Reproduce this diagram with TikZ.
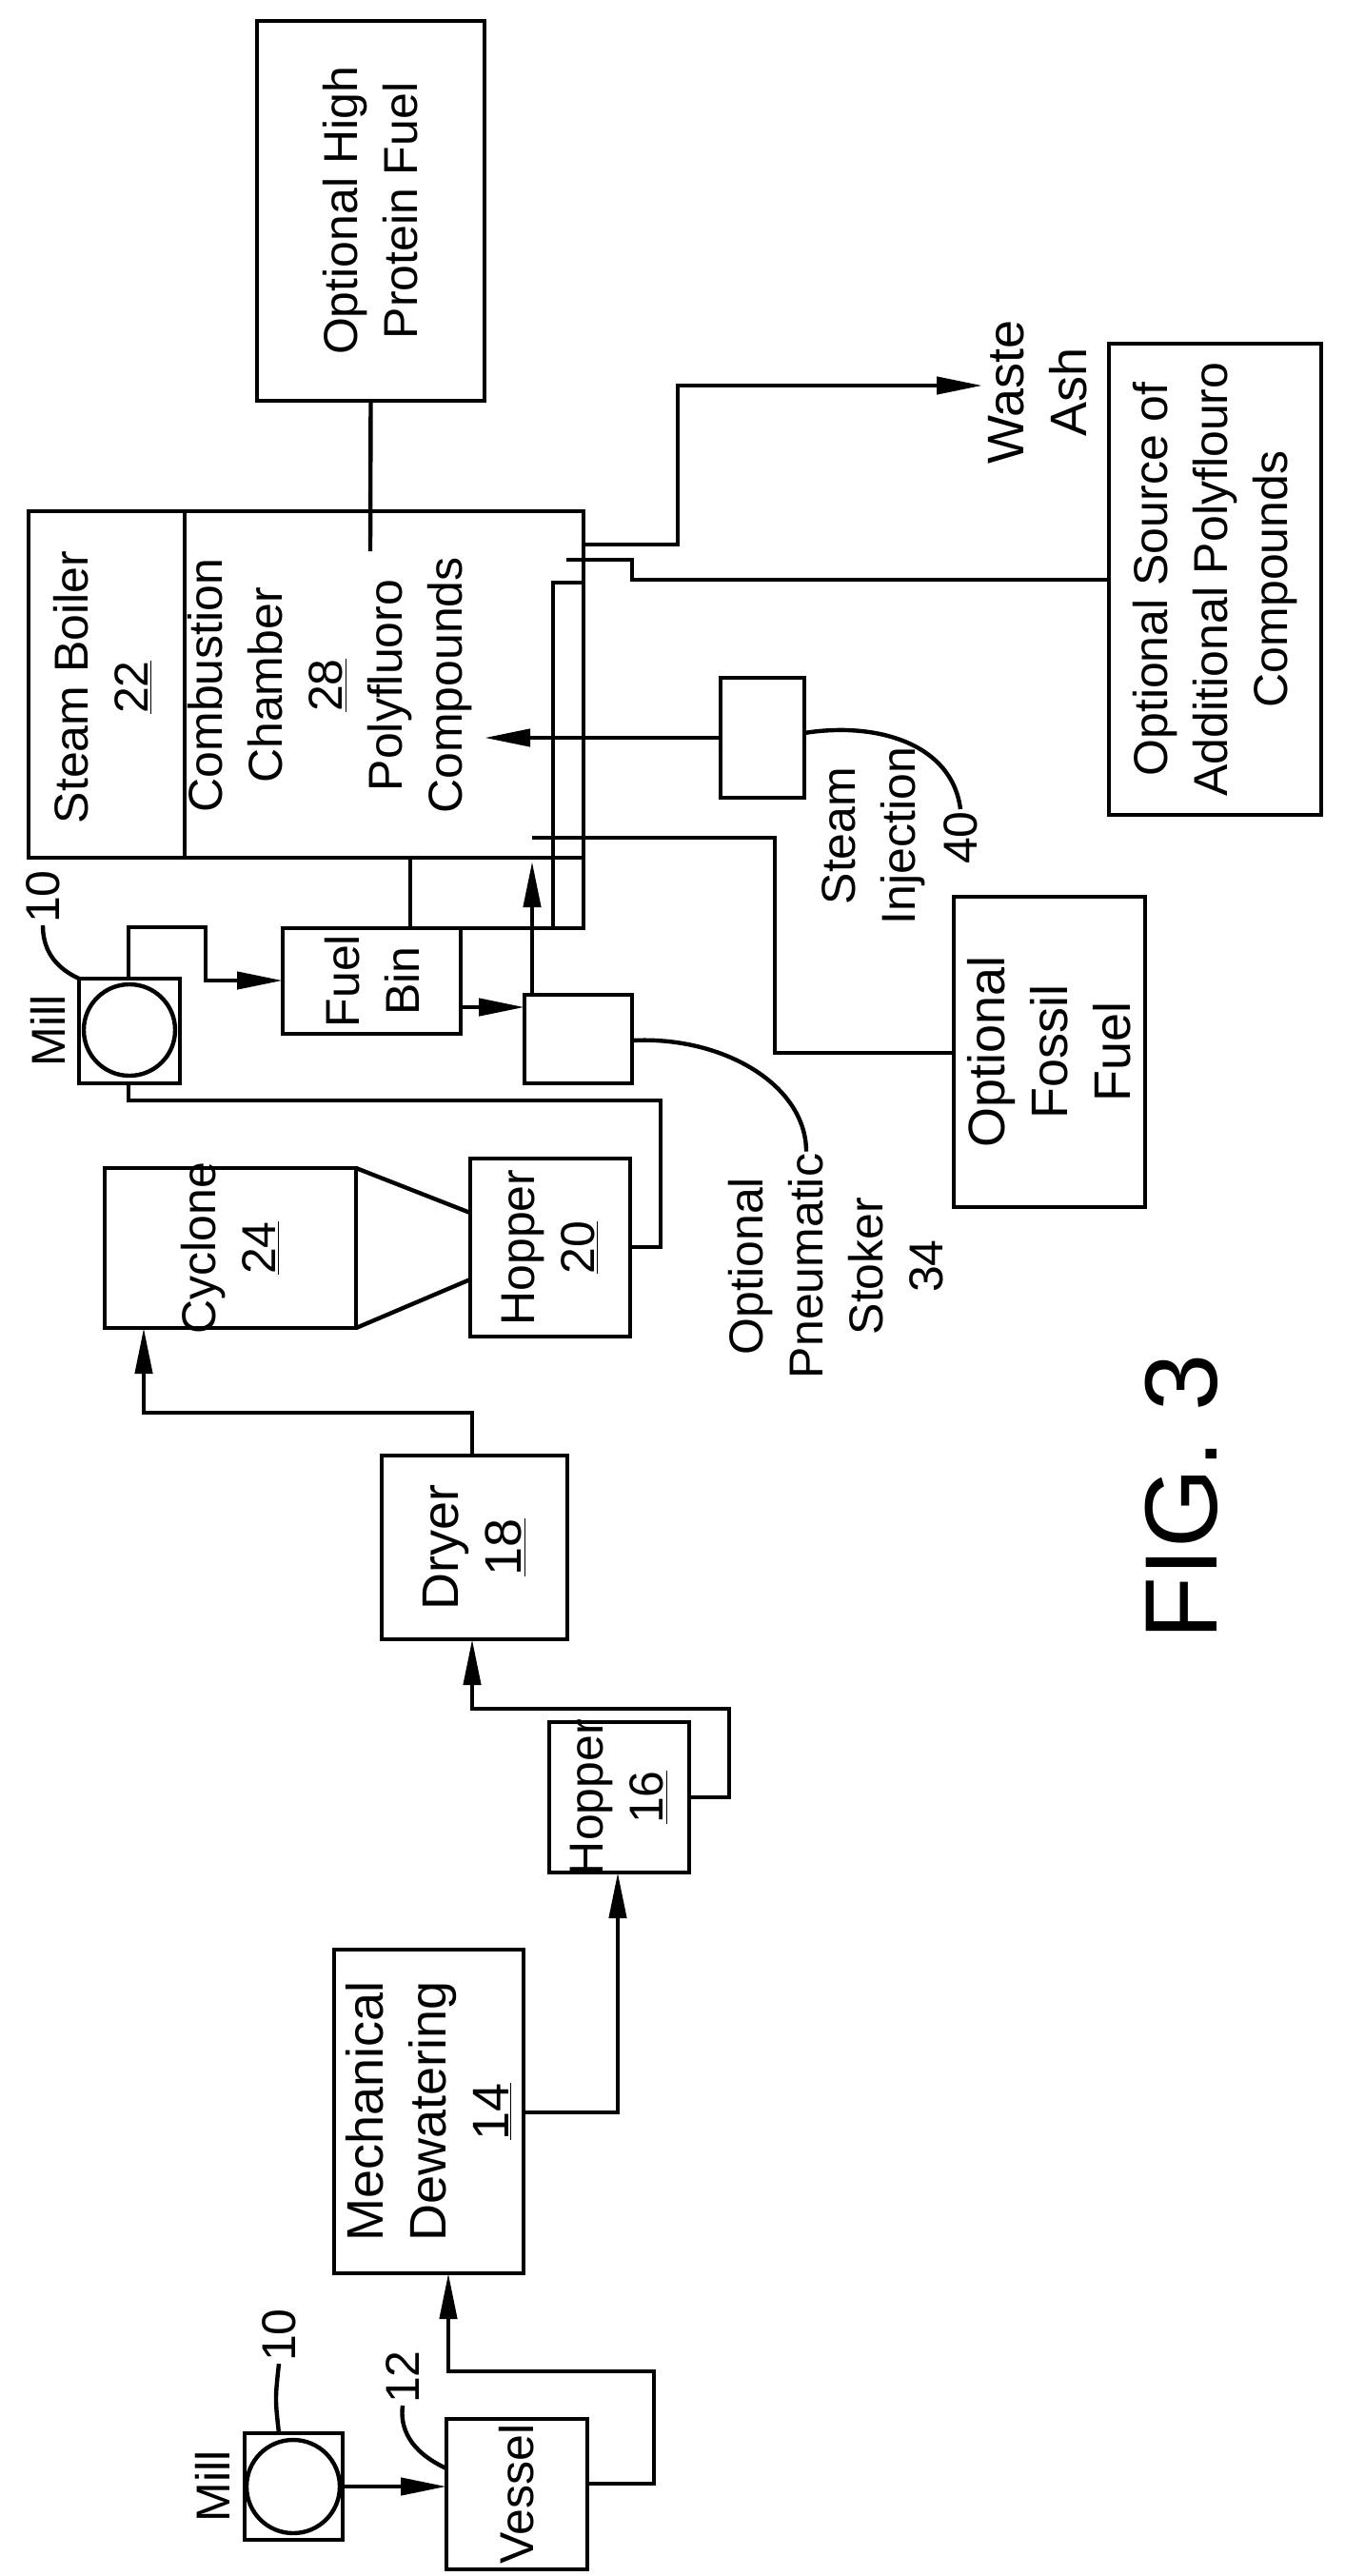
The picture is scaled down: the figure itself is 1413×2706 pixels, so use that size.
\documentclass[tikz,border=0pt]{standalone}
\usepackage{fontspec}
\setmainfont{Liberation Sans}
\usetikzlibrary{arrows.meta}
\begin{document}
\begin{tikzpicture}[x=0.5pt,y=-0.5pt,line width=2.2pt,
  box/.style={draw,inner sep=0pt,outer sep=0pt},
  txt/.style={rotate=90,align=center,inner sep=0pt,font=\fontsize{25}{31.5}\selectfont},
  arr/.style={-{Triangle[length=24pt,width=9pt]}},
  line join=miter]
\useasboundingbox (0,0) rectangle (1413,2706);
\newcommand\BX[5]{\node[box,minimum width={(#4-#2)*0.5pt},minimum height={(#5-#3)*0.5pt}] (#1) at ({(#2+#4)/2},{(#3+#5)/2}) {};}
\BX{hpf}{270}{22}{509}{421}
\BX{boiler}{30}{537}{613}{901}
\BX{src}{1165}{361}{1388}{856}
\BX{fuel}{297}{975}{484}{1086}
\BX{stoker}{551}{1045}{664}{1138}
\BX{fossil}{1002}{942}{1203}{1268}
\BX{inj}{757}{712}{845}{838}
\BX{millA}{83}{1028}{189}{1138}
\BX{cyc}{110}{1227}{374}{1395}
\BX{hopA}{494}{1217}{662}{1404}
\BX{dryer}{401}{1529}{596}{1722}
\BX{hopB}{577}{1809}{724}{1967}
\BX{mech}{351}{2048}{550}{2388}
\BX{vessel}{469}{2541}{617}{2699}
\BX{millB}{257}{2556}{360}{2668}
\node[draw,circle,minimum size=48pt,inner sep=0pt] (cA) at (136,1082) {};
\node[draw,circle,minimum size=49pt,inner sep=0pt] (cB) at (308,2612) {};
% texts
\node[txt] (thpf) at (hpf.center) {Optional High\\Protein Fuel};
\node[txt] (tboil) at (108,722) {Steam Boiler\\\underline{22}};
\node[txt] (tcomb) at (347,720) {Combustion\\Chamber\\\underline{28}\\Polyfluoro\\Compounds};
\node[txt] (tsrc) at (src.center) {Optional Source of\\Additional Polyflouro\\Compounds};
\node[txt,font=\fontsize{27}{33}\selectfont] (tash) at (1090,412) {Waste\\Ash};
\node[txt] (tfuel) at (fuel.center) {Fuel\\Bin};
\node[txt,font=\fontsize{27}{33}\selectfont] (tfos) at (fossil.center) {Optional\\Fossil\\Fuel};
\node[txt] (tinj) at (918,878) {Steam\\Injection};
\node[txt] (t40) at (1009,880) {40};
\node[txt] (tmillA) at (50,1083) {Mill};
\node[txt] (t10A) at (45,942) {10};
\node[txt] (tcyc) at (cyc.center) {Cyclone\\\underline{24}};
\node[txt] (thopA) at (hopA.center) {Hopper\\\underline{20}};
\node[txt] (tstok) at (878,1330) {Optional\\Pneumatic\\Stoker\\34};
\node[txt,font=\fontsize{27}{33}\selectfont] (tdry) at (dryer.center) {Dryer\\\underline{18}};
\node[txt] (thopB) at (hopB.center) {Hopper\\\underline{16}};
\node[txt,font=\fontsize{27}{33}\selectfont] (tmech) at (mech.center) {Mechanical\\Dewatering\\\underline{14}};
\node[txt] (tves) at (vessel.center) {Vessel};
\node[txt] (tmillB) at (223,2612) {Mill};
\node[txt] (t10B) at (293,2453) {10};
\node[txt] (t12) at (423,2497) {12};
\node[txt,font=\fontsize{54}{60}\selectfont] (tfig) at (1241,1572) {FIG. 3};
% divider
\draw (194,537) -- (194,901);
% connectors
\coordinate (hpfend) at (389,579);
\draw (hpf.south) -- (hpfend);
\coordinate (ashtip) at (1032,405);
\draw[arr] (613,572) -- (712,572) -- (712,405) -- (ashtip);
\coordinate (srcend) at (595,588);
\draw (src.west |- 0,609) -- (664,609) -- (664,588) -- (srcend);
\draw (581,975) -- (581,612) -- (613,612);
\draw (boiler.south east) -- (613,975) -- (fuel.north east);
\draw (fuel.north -| 431,0) -- (boiler.south -| 431,0);
\coordinate (stokend) at (559,905);
\draw[arr] (stoker.north -| 559,0) -- (stokend);
\draw[arr] (fuel.east |- 0,1058) -- (stoker.west |- 0,1058);
\draw (559,880) -- (814,880) -- (814,1106) -- (fossil.west |- 0,1106);
\coordinate (injend) at (509,775);
\draw[arr] (inj.west |- 0,775) -- (injend);
\draw (inj.east |- 0,770) .. controls (919,758) and (1000,780) .. (t40.east);
\draw (millA.north west) .. controls (55,1015) and (45,995) .. (t10A.west);
\draw[arr] (millA.north -| 135,0) -- (135,974) -- (216,974) -- (216,1030) -- (fuel.west |- 0,1030);
\draw (millA.south -| 135,0) -- (135,1156) -- (694,1156) -- (694,1310) -- (hopA.east |- 0,1310);
\draw (cyc.north east) -- (hopA.west |- 0,1274);
\draw (cyc.south east) -- (hopA.west |- 0,1344);
\draw (stoker.east |- 0,1093) .. controls (760,1088) and (847,1140) .. (tstok.east -| 847,0);
\draw[arr] (dryer.north -| 496,0) -- (496,1484) -- (151,1484) -- (cyc.south -| 151,0);
\draw[arr] (hopB.east |- 0,1888) -- (766,1888) -- (766,1795) -- (496,1795) -- (dryer.south -| 496,0);
\draw[arr] (mech.east |- 0,2219) -- (649,2219) -- (hopB.south -| 649,0);
\draw[arr] (vessel.east |- 0,2609) -- (687,2609) -- (687,2491) -- (471,2491) -- (mech.south -| 471,0);
\draw[arr] (millB.east |- 0,2612) -- (vessel.west |- 0,2612);
\draw (millB.north -| 293,0) .. controls (289,2520) .. (t10B.west);
\draw (vessel.west |- 0,2593) .. controls (430,2575) and (420,2550) .. (t12.west);
\end{tikzpicture}
\end{document}
